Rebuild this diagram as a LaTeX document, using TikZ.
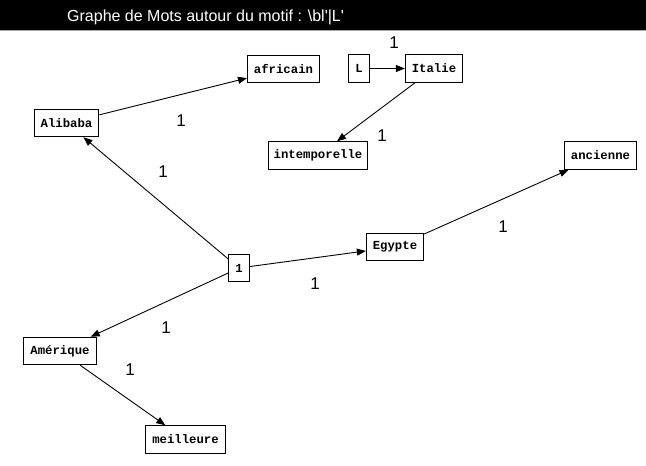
\documentclass[tikz,border=0pt]{standalone}
\usepackage{fontspec}
\usetikzlibrary{arrows.meta}
\newfontfamily\boxfont{Liberation Mono}
\newfontfamily\labfont{Liberation Sans}
\begin{document}
\begin{tikzpicture}[x=1pt,y=-1pt,
  wbox/.style={draw=black,line width=1pt,fill=white,inner xsep=6.5pt,inner ysep=0pt,
    minimum height=27.5pt,font=\boxfont\bfseries\fontsize{12.3}{12.3}\selectfont},
  conn/.style={draw=black,line width=0.9pt,-{Triangle[length=9pt,width=7pt]}},
  elab/.style={font=\labfont\fontsize{17}{17}\selectfont,inner sep=0pt}]
\useasboundingbox (0,0) rectangle (646,466);
\fill[white] (0,0) rectangle (646,466);
\fill[black] (0,0) rectangle (646,30);
\draw[gray!70,line width=1pt] (0,30.5) -- (646,30.5);
\node[anchor=base west,text=white,inner sep=0pt,font=\labfont\fontsize{16}{16}\selectfont] (title) at (67,21)
  {Graphe de Mots autour du motif : \textbackslash bl\textquotesingle|L\textquotesingle};
% nodes
\node[wbox] (africain) at (283.5,69) {africain};
\node[wbox] (alibaba) at (66.5,123) {Alibaba};
\node[wbox] (L) at (359,68.5) {L};
\node[wbox] (italie) at (434,68.5) {Italie};
\node[wbox,inner xsep=5.5pt] (intemp) at (318,155.5) {intemporelle};
\node[wbox] (ancienne) at (600.5,155.5) {ancienne};
\node[wbox] (egypte) at (395,247) {Egypte};
\node[wbox] (one) at (239,268) {1};
\node[wbox] (amerique) at (60,351) {Amérique};
\node[wbox] (meilleure) at (185.5,439.5) {meilleure};
% edges
\draw[conn] (alibaba) -- (africain);
\draw[conn] (one) -- (alibaba);
\draw[conn] (L) -- (italie);
\draw[conn] (italie) -- (intemp);
\draw[conn] (egypte) -- (ancienne);
\draw[conn] (one) -- (egypte);
\draw[conn] (one) -- (amerique);
\draw[conn] (amerique) -- (meilleure);
% edge labels
\node[elab] (l1) at (181,121) {1};
\node[elab] (l2) at (163,172) {1};
\node[elab] (l3) at (394,43) {1};
\node[elab] (l4) at (382,136) {1};
\node[elab] (l5) at (503,227) {1};
\node[elab] (l6) at (315,284) {1};
\node[elab] (l7) at (166,328) {1};
\node[elab] (l8) at (130,370) {1};
\end{tikzpicture}
\end{document}
